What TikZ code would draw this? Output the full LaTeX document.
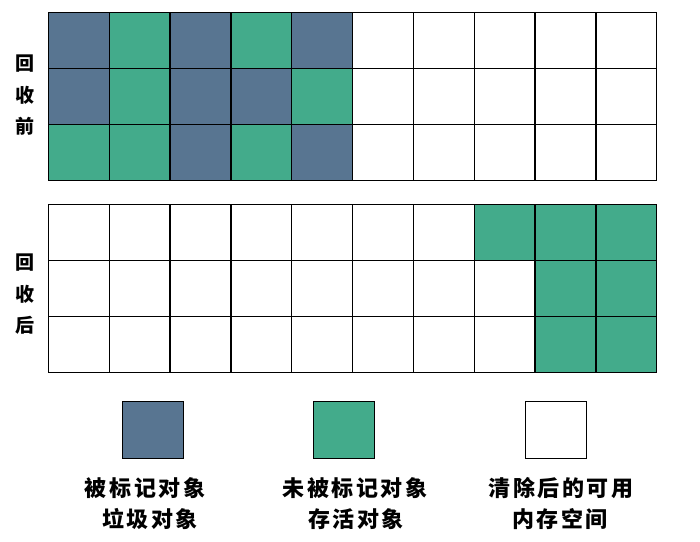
\documentclass[tikz,border=0pt]{standalone}
\usepackage{fontspec}
\newfontfamily\cjk[LetterSpace=12]{Noto Sans CJK SC}
\definecolor{gcblue}{HTML}{587591}
\definecolor{gcgreen}{HTML}{43AB8B}
\tikzset{
  cellline/.style={draw=black,line width=1.3pt},
  lbl/.style={font=\cjk\bfseries\fontsize{22}{26}\selectfont,inner sep=0pt,text height=0.88em,text depth=0.12em,anchor=center},
  sidelbl/.style={font=\cjk\bfseries\fontsize{19}{31.5}\selectfont,inner sep=0pt,align=center,anchor=center},
}
\begin{document}
\begin{tikzpicture}[x=1pt,y=-1pt]
\useasboundingbox (0,0) rectangle (700,541);
\fill[white] (0,0) rectangle (700,541);
\def\xo{48.3}\def\cw{60.85}\def\ch{56}
% top grid fills: row, col, color
\foreach \r/\c/\col in {0/0/gcblue,0/1/gcgreen,0/2/gcblue,0/3/gcgreen,0/4/gcblue,
                       1/0/gcblue,1/1/gcgreen,1/2/gcblue,1/3/gcblue,1/4/gcgreen,
                       2/0/gcgreen,2/1/gcgreen,2/2/gcblue,2/3/gcgreen,2/4/gcblue}{
  \fill[\col] (\xo+\c*\cw,12.3+\r*\ch) rectangle (\xo+\c*\cw+\cw,12.3+\r*\ch+\ch);
}
% bottom grid fills
\foreach \r/\c in {0/7,0/8,0/9,1/8,1/9,2/8,2/9}{
  \fill[gcgreen] (\xo+\c*\cw,204.3+\r*\ch) rectangle (\xo+\c*\cw+\cw,204.3+\r*\ch+\ch);
}
% grid lines
\foreach \yo in {12.3,204.3}{
  \foreach \i in {0,...,10}{
    \draw[cellline] (\xo+\i*\cw,\yo) -- (\xo+\i*\cw,\yo+3*\ch);
  }
  \foreach \j in {0,...,3}{
    \draw[cellline] (\xo,\yo+\j*\ch) -- (\xo+10*\cw,\yo+\j*\ch);
  }
}
% side labels
\node[sidelbl] (before) at (24.5,95.5) {回\\收\\前};
\node[sidelbl] (after) at (24.5,294.5) {回\\收\\后};
% legend squares
\filldraw[fill=gcblue,cellline] (122.3,401.3) rectangle (183.3,458.3);
\filldraw[fill=gcgreen,cellline] (313.5,401.3) rectangle (374.5,458.3);
\filldraw[fill=white,cellline] (525.3,401.3) rectangle (586.3,458.3);
% legend texts
\node[lbl] (l1a) at (145,493) {被标记对象};
\node[lbl] (l1b) at (150,524) {垃圾对象};
\node[lbl] (l2a) at (355,493) {未被标记对象};
\node[lbl] (l2b) at (356,524) {存活对象};
\node[lbl] (l3a) at (561,493) {清除后的可用};
\node[lbl] (l3b) at (560,524) {内存空间};
\end{tikzpicture}
\end{document}
